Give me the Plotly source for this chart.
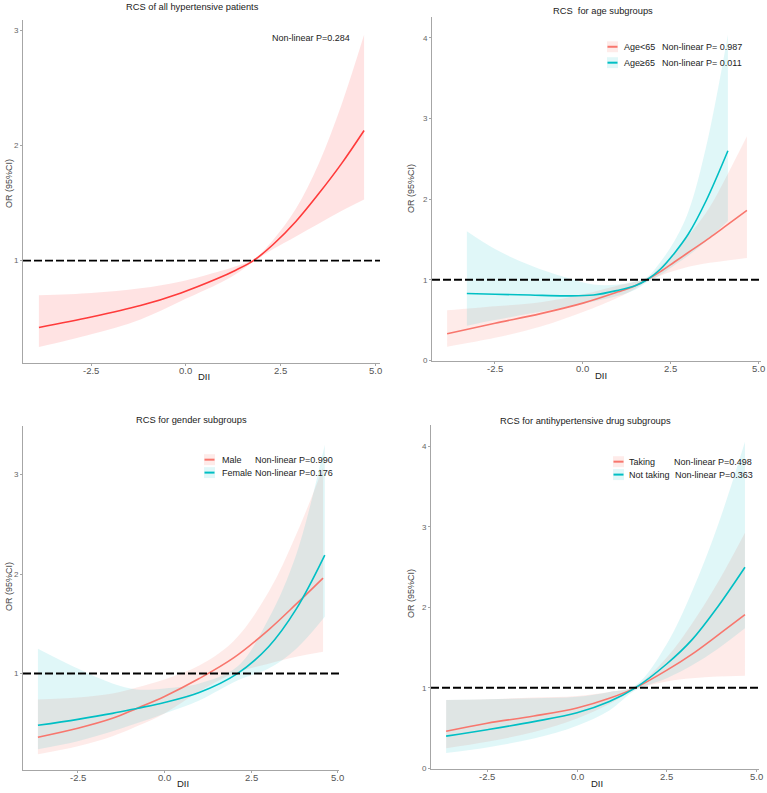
import plotly.graph_objects as go

W, H = 767, 793

# ---------------- data ----------------
# Panel 1: all hypertensive patients
dii_all = [-3.88, -2.5, -1.2, -0.13, 0.8, 1.3, 1.78, 2.3, 2.9, 3.5, 4.1, 4.70]
or_all = [0.42, 0.51, 0.61, 0.72, 0.84, 0.915, 1.0, 1.14, 1.34, 1.58, 1.84, 2.13]
lo_all = [0.25, 0.36, 0.49, 0.65, 0.79, 0.88, 0.99, 1.10, 1.21, 1.32, 1.43, 1.53]
hi_all = [0.70, 0.72, 0.76, 0.82, 0.90, 0.95, 1.01, 1.18, 1.45, 1.84, 2.35, 2.96]

# Panel 2: age subgroups
dii_age1 = [-3.86, -2.5, -1.2, 0.0, 1.0, 1.45, 1.82, 2.2, 2.6, 3.1, 3.6, 4.1, 4.66]
or_age1 = [0.33, 0.46, 0.58, 0.71, 0.85, 0.92, 1.0, 1.10, 1.22, 1.37, 1.52, 1.68, 1.86]
lo_age1 = [0.17, 0.28, 0.42, 0.60, 0.78, 0.88, 0.98, 1.05, 1.11, 1.17, 1.21, 1.24, 1.27]
hi_age1 = [0.62, 0.67, 0.72, 0.82, 0.93, 0.97, 1.02, 1.16, 1.34, 1.60, 1.90, 2.30, 2.78]

dii_age2 = [-3.3, -2.5, -1.5, -0.5, 0.3, 1.0, 1.5, 1.82, 2.2, 2.6, 3.0, 3.5, 4.12]
or_age2 = [0.83, 0.82, 0.81, 0.80, 0.81, 0.87, 0.93, 1.0, 1.13, 1.33, 1.57, 1.98, 2.6]
lo_age2 = [0.43, 0.50, 0.58, 0.66, 0.73, 0.80, 0.88, 0.97, 1.06, 1.18, 1.30, 1.48, 1.73]
hi_age2 = [1.60, 1.38, 1.18, 1.03, 0.94, 0.94, 0.98, 1.03, 1.22, 1.48, 1.85, 2.65, 4.04]

# Panel 3: gender subgroups
dii_male = [-3.65, -2.5, -1.5, -0.8, 0.0, 1.0, 2.0, 3.0, 3.8, 4.57]
or_male = [0.36, 0.45, 0.55, 0.65, 0.77, 0.95, 1.16, 1.44, 1.70, 1.96]
lo_male = [0.19, 0.27, 0.37, 0.47, 0.60, 0.82, 1.00, 1.10, 1.17, 1.22]
hi_male = [0.74, 0.76, 0.80, 0.86, 0.94, 1.08, 1.33, 1.82, 2.40, 3.07]

dii_female = [-3.65, -2.5, -1.5, -0.8, 0.0, 1.0, 2.1, 3.0, 3.8, 4.62]
or_female = [0.48, 0.54, 0.60, 0.65, 0.71, 0.81, 1.0, 1.27, 1.65, 2.19]
lo_female = [0.24, 0.32, 0.42, 0.50, 0.60, 0.73, 0.93, 1.05, 1.25, 1.57]
hi_female = [1.25, 1.05, 0.90, 0.84, 0.85, 0.90, 1.07, 1.55, 2.20, 3.30]

# Panel 4: antihypertensive drug subgroups
dii_drug = [-3.64, -2.5, -1.2, 0.0, 0.9, 1.62, 2.5, 3.2, 3.9, 4.67]
or_take = [0.46, 0.56, 0.65, 0.75, 0.87, 1.0, 1.22, 1.42, 1.65, 1.91]
lo_take = [0.25, 0.33, 0.45, 0.62, 0.80, 0.98, 1.08, 1.12, 1.14, 1.15]
hi_take = [0.85, 0.86, 0.88, 0.90, 0.95, 1.02, 1.38, 1.80, 2.30, 2.93]

or_not = [0.40, 0.48, 0.58, 0.69, 0.83, 1.0, 1.30, 1.60, 2.00, 2.50]
lo_not = [0.19, 0.26, 0.37, 0.53, 0.72, 0.97, 1.12, 1.28, 1.48, 1.74]
hi_not = [0.85, 0.86, 0.87, 0.89, 0.95, 1.03, 1.55, 2.20, 3.00, 4.06]

titles = ["RCS of all hypertensive patients", "RCS  for age subgroups",
          "RCS for gender subgroups", "RCS for antihypertensive drug subgroups"]
x_ticks = [-2.5, 0.0, 2.5, 5.0]
x_ticktext = ["-2.5", "0.0", "2.5", "5.0"]

RED = "#FF3B3B"
SAL = "#F8766D"
CYA = "#00BFC4"
FILL_RED = "rgba(255,64,64,0.15)"
FILL_SAL = "rgba(248,118,109,0.15)"
FILL_CYA = "rgba(0,191,196,0.12)"
FONT = "Liberation Sans, Arial, sans-serif"

fig = go.Figure()


def band(x, lo, hi, fill, xa, ya):
    fig.add_trace(go.Scatter(x=x, y=lo, mode="lines", line=dict(width=0, shape="spline"),
                             xaxis=xa, yaxis=ya, showlegend=False, hoverinfo="skip"))
    fig.add_trace(go.Scatter(x=x, y=hi, mode="lines", line=dict(width=0, shape="spline"),
                             fill="tonexty", fillcolor=fill, xaxis=xa, yaxis=ya,
                             showlegend=False, hoverinfo="skip"))


def curve(x, y, color, xa, ya):
    fig.add_trace(go.Scatter(x=x, y=y, mode="lines", line=dict(color=color, width=1.6, shape="spline"),
                             xaxis=xa, yaxis=ya, showlegend=False))


band(dii_all, lo_all, hi_all, FILL_RED, "x", "y")
curve(dii_all, or_all, RED, "x", "y")

band(dii_age1, lo_age1, hi_age1, FILL_SAL, "x2", "y2")
band(dii_age2, lo_age2, hi_age2, FILL_CYA, "x2", "y2")
curve(dii_age1, or_age1, SAL, "x2", "y2")
curve(dii_age2, or_age2, CYA, "x2", "y2")

band(dii_male, lo_male, hi_male, FILL_SAL, "x3", "y3")
band(dii_female, lo_female, hi_female, FILL_CYA, "x3", "y3")
curve(dii_male, or_male, SAL, "x3", "y3")
curve(dii_female, or_female, CYA, "x3", "y3")

band(dii_drug, lo_take, hi_take, FILL_SAL, "x4", "y4")
band(dii_drug, lo_not, hi_not, FILL_CYA, "x4", "y4")
curve(dii_drug, or_take, SAL, "x4", "y4")
curve(dii_drug, or_not, CYA, "x4", "y4")


def px(xp):
    return xp / W


def py(yp):
    return 1 - yp / H


# panel geometry in pixels: (left, right, top, bottom), x-range, y-range, y ticks
panels = [
    ((23, 380, 20, 365), [-4.30, 5.12], [0.11, 3.09], [1, 2, 3]),
    ((432, 761, 17, 363), [-4.29, 5.06], [-0.01, 4.26], [0, 1, 2, 3, 4]),
    ((23, 339, 428, 774), [-4.08, 5.03], [0.03, 3.49], [1, 2, 3]),
    ((431, 759, 427, 773), [-4.06, 5.06], [-0.01, 4.27], [0, 1, 2, 3, 4]),
]

layout = dict(width=W, height=H, margin=dict(l=0, r=0, t=0, b=0),
              paper_bgcolor="white", plot_bgcolor="white", showlegend=False)
for i, (box, xr, yr, yt) in enumerate(panels):
    l, r, t, b = box
    sfx = "" if i == 0 else str(i + 1)
    layout["xaxis" + sfx] = dict(domain=[px(l), px(r)], range=xr, anchor="y" + sfx,
                                 tickvals=x_ticks, showticklabels=False, showgrid=False,
                                 zeroline=False, showline=True, linecolor="#a6a6a6", linewidth=1,
                                 ticks="outside", ticklen=2, tickcolor="#a6a6a6")
    layout["yaxis" + sfx] = dict(domain=[py(b), py(t)], range=yr, anchor="x" + sfx,
                                 tickvals=yt, showgrid=False, zeroline=False, showline=True,
                                 linecolor="#a6a6a6", linewidth=1, ticks="outside", ticklen=2,
                                 tickcolor="#a6a6a6", ticklabeloverflow="allow",
                                 tickfont=dict(family=FONT, size=8, color="#666666"))
fig.update_layout(**layout)

# reference lines OR = 1
for i in range(4):
    sfx = "" if i == 0 else str(i + 1)
    fig.add_shape(type="line", xref=("x" + sfx) + " domain", yref="y" + sfx,
                  x0=0, x1=1, y0=1, y1=1,
                  line=dict(color="black", width=1.6 if i == 0 else 2, dash="8px,3px"))

ann = []

# x tick labels, placed on each panel's own x scale just under its axis line
for i, (box, xr, yr, yt) in enumerate(panels):
    sfx = "" if i == 0 else str(i + 1)
    for tv, tt in zip(x_ticks, x_ticktext):
        ann.append(dict(text=tt, x=tv, xref="x" + sfx, y=py(box[3] + 7.5), yref="paper",
                        xanchor="center", yanchor="middle", showarrow=False,
                        font=dict(family=FONT, size=9.5, color="#555555")))


def text(s, xp, yp, size=9, color="#222222", xanchor="center", angle=0):
    ann.append(dict(text=s, x=px(xp), y=py(yp), xref="paper", yref="paper",
                    xanchor=xanchor, yanchor="middle", showarrow=False, textangle=angle,
                    font=dict(family=FONT, size=size, color=color)))


# titles
text(titles[0], 192, 7, 9.3)
text(titles[1], 603, 11, 9.3)
text(titles[2], 191, 422, 9.3)
text(titles[3], 585, 423, 9.3)

# axis titles
for (xx, yy) in [(204, 378), (601, 377), (183, 787), (597, 787)]:
    text("DII", xx, yy, 9.5, "#222222")
for (xx, yy) in [(9, 185), (411, 190), (9, 590), (411, 597)]:
    text("OR (95%CI)", xx, yy, 9, "#444444", angle=-90)

# panel 1 annotation
text("Non-linear P=0.284", 270, 38, 9, "#222222", xanchor="left")


def legend_key(xl, yc, color, fill):
    fig.add_shape(type="rect", xref="paper", yref="paper",
                  x0=px(xl), x1=px(xl + 11), y0=py(yc + 5.5), y1=py(yc - 5.5),
                  line=dict(width=0), fillcolor=fill)
    fig.add_shape(type="line", xref="paper", yref="paper",
                  x0=px(xl + 0.5), x1=px(xl + 10.5), y0=py(yc), y1=py(yc),
                  line=dict(color=color, width=2))


# panel 2 legend
legend_key(607, 47, SAL, FILL_SAL)
legend_key(607, 63, CYA, FILL_CYA)
text("Age<65", 622, 47, 9, xanchor="left")
text("Non-linear P= 0.987", 660, 47, 9, xanchor="left")
text("Age≥65", 622, 63, 9, xanchor="left")
text("Non-linear P= 0.011", 660, 63, 9, xanchor="left")

# panel 3 legend
legend_key(204, 462, SAL, FILL_SAL)
legend_key(204, 475, CYA, FILL_CYA)
text("Male", 220, 462, 9, xanchor="left")
text("Non-linear P=0.990", 253, 462, 9, xanchor="left")
text("Female", 220, 475, 9, xanchor="left")
text("Non-linear P=0.176", 253, 475, 9, xanchor="left")

# panel 4 legend
legend_key(613, 464, SAL, FILL_SAL)
legend_key(613, 477, CYA, FILL_CYA)
text("Taking", 627, 464, 9, xanchor="left")
text("Non-linear P=0.498", 672, 464, 9, xanchor="left")
text("Not taking", 627, 477, 9, xanchor="left")
text("Non-linear P=0.363", 673, 477, 9, xanchor="left")

fig.update_layout(annotations=ann)
fig.write_html("out.html", config={"displayModeBar": False},
               post_script="document.body.style.margin='0';document.body.style.overflow='hidden';")
